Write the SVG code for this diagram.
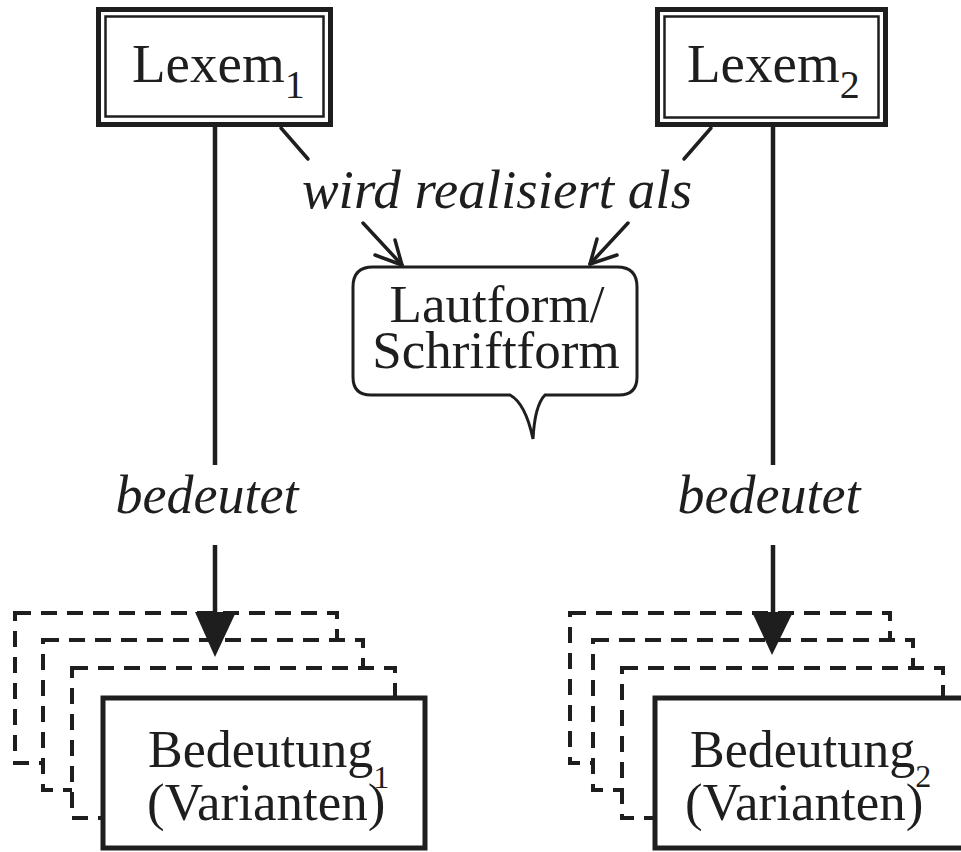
<svg xmlns="http://www.w3.org/2000/svg" width="961" height="852" viewBox="0 0 961 852">
<defs>
<style>
.t{font-family:"Liberation Serif","Times New Roman",serif;fill:#1e1e1e}
.i{font-style:italic}
.frm{fill:#fff;stroke:#1e1e1e;stroke-width:4;stroke-dasharray:16 10}
.box{fill:#fff;stroke:#1e1e1e;stroke-width:5}
.ln{fill:none;stroke:#1e1e1e;stroke-width:4.5}
.thin{fill:none;stroke:#1e1e1e;stroke-width:3.5;stroke-linecap:round;stroke-linejoin:round}
.head{fill:#1e1e1e;stroke:none}
</style>
</defs>
<rect width="961" height="852" fill="#fff"/>

<g id="lexem1">
<rect x="98.5" y="9.5" width="232" height="115" fill="#fff" stroke="#1e1e1e" stroke-width="5"/>
<rect x="105.5" y="16.5" width="218" height="100" fill="none" stroke="#1e1e1e" stroke-width="2.5"/>
<text class="t" x="132" y="82" font-size="55">Lexem<tspan dy="16" font-size="40">1</tspan></text>
</g>

<g id="lexem2">
<rect x="657.5" y="9.5" width="228" height="115" fill="#fff" stroke="#1e1e1e" stroke-width="5"/>
<rect x="664.5" y="16.5" width="214" height="101" fill="none" stroke="#1e1e1e" stroke-width="2.5"/>
<text class="t" x="687" y="82" font-size="55">Lexem<tspan dy="16" font-size="40">2</tspan></text>
</g>

<g id="lautform">
<path d="M373,267 H617 Q637,267 637,287 V377 Q637,395 619,395 H545 C538,402 534,420 533,439 C529,420 523,402 510,395 H371 Q353,395 353,377 V287 Q353,267 373,267 Z" fill="#fff" stroke="#1e1e1e" stroke-width="3"/>
<text class="t" x="497" y="322" font-size="53" text-anchor="middle">Lautform/</text>
<text class="t" x="496" y="368" font-size="53" text-anchor="middle">Schriftform</text>
</g>

<g id="bedeutung1">
<rect class="frm" x="15" y="613" width="322" height="150"/>
<rect class="frm" x="43" y="640" width="320" height="150"/>
<rect class="frm" x="72" y="668" width="323" height="150"/>
<rect class="box" x="103" y="698" width="322" height="150"/>
<text class="t" x="148" y="767" font-size="52">Bedeutung<tspan dy="21" font-size="32">1</tspan></text>
<text class="t" x="147" y="820" font-size="53">(Varianten)</text>
</g>

<g id="bedeutung2">
<rect class="frm" x="570" y="613" width="320" height="150"/>
<rect class="frm" x="593" y="640" width="320" height="150"/>
<rect class="frm" x="622" y="668" width="321" height="150"/>
<rect class="box" x="655" y="698" width="322" height="150"/>
<text class="t" x="690" y="767" font-size="52">Bedeutung<tspan dy="20" font-size="32">2</tspan></text>
<text class="t" x="685" y="820" font-size="53">(Varianten)</text>
</g>

<g id="connectors">
<line class="ln" x1="215" y1="127" x2="215" y2="465"/>
<line class="ln" x1="215" y1="545" x2="215" y2="614"/>
<polygon class="head" points="195,612 236,612 215,657"/>
<line class="ln" x1="773" y1="127" x2="773" y2="465"/>
<line class="ln" x1="773" y1="545" x2="773" y2="614"/>
<polygon class="head" points="752,612 793,612 772,655"/>
<line class="thin" x1="281" y1="128" x2="308" y2="159"/>
<line class="thin" x1="711" y1="128" x2="684" y2="159"/>
<line class="thin" x1="363" y1="223" x2="402" y2="265"/>
<polyline class="thin" points="395,240 402,265 375,255"/>
<line class="thin" x1="628" y1="223" x2="590" y2="264"/>
<polyline class="thin" points="597,239 590,264 617,255"/>
<text class="t i" x="497" y="208" font-size="55" text-anchor="middle">wird realisiert als</text>
<text class="t i" x="207" y="513" font-size="54" text-anchor="middle">bedeutet</text>
<text class="t i" x="769" y="513" font-size="54" text-anchor="middle">bedeutet</text>
</g>
</svg>
